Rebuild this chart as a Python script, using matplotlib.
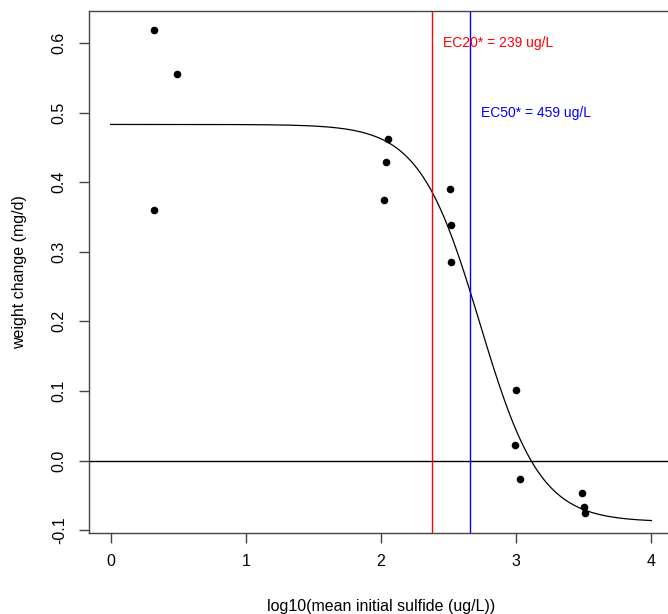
"""Dose-response plot: weight change vs log10 sulfide, with EC20/EC50 markers."""
import matplotlib
matplotlib.use('Agg')
import matplotlib.pyplot as plt
import numpy as np

plt.rcParams.update({
    'font.family': ['Liberation Sans', 'DejaVu Sans'],
    'font.size': 11.5,
})

# observed data (log10 concentration, weight change mg/d)
log_conc = [0.32, 0.49, 0.32, 2.05, 2.04, 2.02, 2.51, 2.52, 2.52,
            3.00, 2.99, 3.03, 3.49, 3.50, 3.51]
weight_change = [0.619, 0.555, 0.360, 0.462, 0.429, 0.374, 0.390, 0.338, 0.285,
                 0.101, 0.022, -0.027, -0.046, -0.066, -0.075]

# fitted logistic model (in log10 units)
fit_top = 0.483
fit_bottom = -0.088
fit_slope = 4.49
fit_mid = 2.731

ec20 = 239
ec50 = 459

x_ticks = [0, 1, 2, 3, 4]
y_ticks = [-0.1, 0.0, 0.1, 0.2, 0.3, 0.4, 0.5, 0.6]

fig = plt.figure(figsize=(6.68, 6.14), dpi=100)
ax = fig.add_axes([89 / 668, 1 - 533 / 614, (673 - 89) / 668, (533 - 11) / 614])

xs = np.linspace(0, 4, 200)
ys = fit_bottom + (fit_top - fit_bottom) / (1 + np.exp(fit_slope * (xs - fit_mid)))
ax.plot(xs, ys, color='black', lw=0.9)

ax.scatter(log_conc, weight_change, s=30, color='black', zorder=3, linewidths=0)

ax.axhline(0, color='black', lw=1)
ax.axvline(np.log10(ec20), color='red', lw=1)
ax.axvline(np.log10(ec50), color='blue', lw=1)
ax.text(np.log10(ec20) + 0.08, 0.60, f"EC20* = {ec20} ug/L", color='red',
        fontsize=10, ha='left', va='center')
ax.text(np.log10(ec50) + 0.08, 0.50, f"EC50* = {ec50} ug/L", color='blue',
        fontsize=10, ha='left', va='center')

ax.set_xlim(-0.16, 4.16)
ax.set_ylim(-0.104, 0.646)
ax.set_xticks(x_ticks)
ax.set_xticklabels([str(t) for t in x_ticks])
ax.set_yticks(y_ticks)
ax.set_yticklabels([f"{t:.1f}" for t in y_ticks], rotation=90, va='center')

ax.tick_params(axis='both', length=7, width=1, color='#444444', labelsize=11.5)
ax.tick_params(axis='y', pad=9)
ax.tick_params(axis='x', pad=8)
for sp in ax.spines.values():
    sp.set_color('#444444')
    sp.set_linewidth(1)

ax.set_xlabel("log10(mean initial sulfide (ug/L))", fontsize=11.5, labelpad=22)
ax.set_ylabel("weight change (mg/d)", fontsize=11.5, labelpad=18)

fig.savefig("out.png", dpi=100)
plt.close()
